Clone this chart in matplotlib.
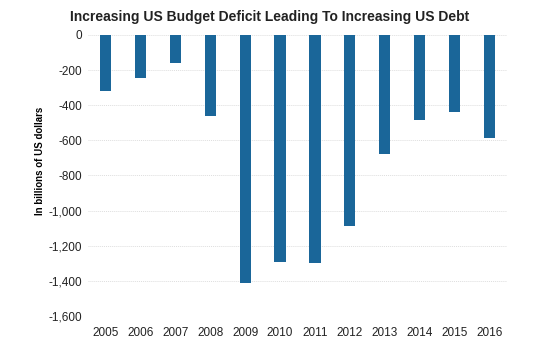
import matplotlib.pyplot as plt
from matplotlib.ticker import FuncFormatter

plt.rcParams['font.family'] = ['Liberation Sans', 'DejaVu Sans']

years = ['2005', '2006', '2007', '2008', '2009', '2010',
         '2011', '2012', '2013', '2014', '2015', '2016']
deficit = [-318, -248, -161, -459, -1413, -1294,
           -1300, -1087, -680, -485, -438, -587]

fig = plt.figure(figsize=(5.53, 3.46), dpi=100)
ax = fig.add_axes([0.159, 0.087, 0.758, 0.812])

ax.bar(range(len(years)), deficit, width=0.32, color='#1a6699', zorder=2)

ax.set_xlim(-0.5, len(years) - 0.5)
ax.set_ylim(-1600, 0)
ax.set_yticks(range(-1600, 1, 200))
ax.yaxis.set_major_formatter(FuncFormatter(lambda v, p: f'{int(v):,}'))
ax.set_xticks(range(len(years)))
ax.set_xticklabels(years)

ax.grid(axis='y', color='#dedede', linewidth=0.7, linestyle=(0, (1, 1)), zorder=0)
for s in ax.spines.values():
    s.set_visible(False)
ax.tick_params(axis='y', length=0, labelsize=8.5, colors='#222222', pad=4)
ax.tick_params(axis='x', length=0, labelsize=8.5, colors='#222222', pad=8)

ax.set_ylabel('In billions of US dollars', fontsize=7, fontweight='bold')
ax.yaxis.set_label_coords(-0.103, 0.55)
fig.text(0.488, 0.952, 'Increasing US Budget Deficit Leading To Increasing US Debt',
         ha='center', va='center', fontsize=10, fontweight='bold', color='#222222')

fig.savefig('out.png', dpi=100)
